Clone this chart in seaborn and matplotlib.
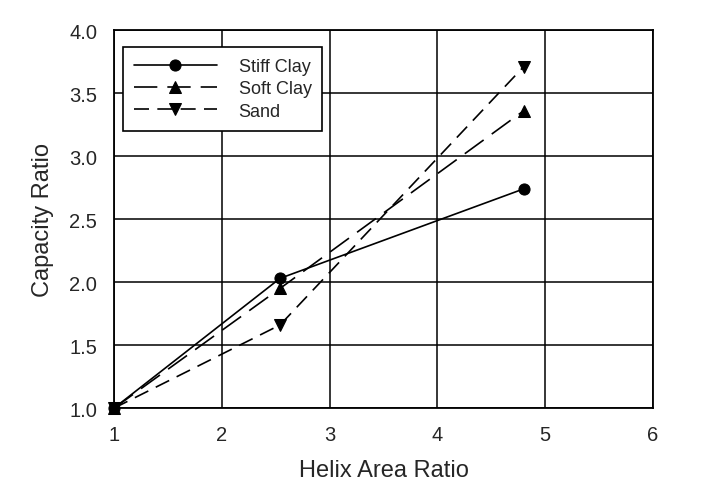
import pandas as pd
import matplotlib
matplotlib.use("Agg")
import matplotlib.pyplot as plt
import seaborn as sns

# values
area_ratio = [1.0, 2.54, 4.80]
stiff_clay = [1.0, 2.03, 2.74]
soft_clay = [1.0, 1.95, 3.36]
sand = [1.0, 1.66, 3.71]
series_names = ["Stiff Clay", "Soft Clay", "Sand"]

df = pd.DataFrame({
    "Helix Area Ratio": area_ratio * 3,
    "Capacity Ratio": stiff_clay + soft_clay + sand,
    "Soil": [n for n in series_names for _ in area_ratio],
})

sns.set_style("white")
plt.rcParams["font.family"] = ["Liberation Sans", "DejaVu Sans"]

fig = plt.figure(figsize=(7.06, 5.02), dpi=100)
ax = fig.add_axes([0.1615, 0.185, 0.7635, 0.753])

sns.lineplot(
    data=df, x="Helix Area Ratio", y="Capacity Ratio",
    hue="Soil", style="Soil",
    palette={n: "black" for n in series_names},
    dashes={"Stiff Clay": "", "Soft Clay": (14, 6), "Sand": (9, 5)},
    markers={"Stiff Clay": "o", "Soft Clay": "^", "Sand": "v"},
    markersize=8, markeredgecolor="black", linewidth=1.2,
    sort=False, ax=ax, legend=False,
)
# stiff clay on top so its dot shows at the shared origin point
for i, ln in enumerate(ax.get_lines()):
    ln.set_clip_on(False)
    ln.set_zorder(4 if i == 0 else 3)

ax.set_xlim(1, 6)
ax.set_ylim(1.0, 4.0)
ax.set_xticks(range(1, 7))
ax.set_yticks([1.0, 1.5, 2.0, 2.5, 3.0, 3.5, 4.0])
ax.set_yticklabels([f"{v:.1f}" for v in ax.get_yticks()])
ax.grid(True, color="black", linewidth=1.1)
ax.set_axisbelow(True)
for s in ax.spines.values():
    s.set_color("black")
    s.set_linewidth(1.3)
ax.tick_params(axis="both", direction="out", length=4, width=1.1,
               color="black", labelsize=14.5, pad=8)
ax.set_xlabel("Helix Area Ratio", fontsize=17, labelpad=11)
ax.set_ylabel("Capacity Ratio", fontsize=17, labelpad=11)

# legend built from the drawn lines
handles = ax.get_lines()[:3]
leg = ax.legend(handles, series_names, loc="upper left",
                bbox_to_anchor=(0.0, 0.979), fontsize=13,
                frameon=True, fancybox=False, edgecolor="black",
                handlelength=4.6, handletextpad=1.2, borderpad=0.6,
                labelspacing=0.3)
leg.get_frame().set_linewidth(1.2)
leg.get_frame().set_alpha(1)
leg.set_zorder(5)

fig.savefig("out.png", dpi=100, facecolor="white")
